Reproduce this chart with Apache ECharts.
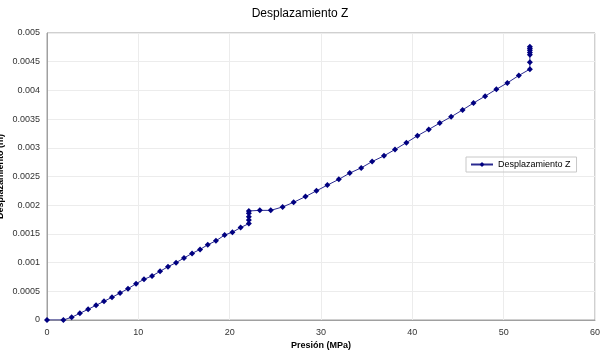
<!DOCTYPE html>
<html>
<head>
	<meta charset="utf-8">
	<script src="https://cdn.jsdelivr.net/npm/echarts@6/dist/echarts.min.js"></script>
	<style>
		html, body { margin: 0; padding: 0; background: #fff; }
	</style>
</head>
<body>
	<div id="main" style="width: 600px; height: 351px"></div>
	<script type="text/javascript">
		// presión (MPa)
		var presion = [
			0, 1.79, 2.7, 3.6, 4.5, 5.37, 6.24, 7.12, 8.0, 8.87, 9.75,
			10.62, 11.5, 12.38, 13.25, 14.13, 15.0, 15.88, 16.76, 17.6, 18.5, 19.45, 20.3, 21.2,
			22.1, 22.1, 22.1, 22.1, 22.1,
			23.3, 24.5, 25.8, 27.0, 28.3, 29.5, 30.7, 31.95, 33.15, 34.4, 35.6, 36.9, 38.1, 39.35,
			40.56, 41.8, 43.0, 44.25, 45.5, 46.7, 47.97, 49.2, 50.4, 51.66,
			52.87, 52.87, 52.87, 52.87, 52.87, 52.87, 52.87
		];
		// desplazamiento Z (m)
		var desplazamiento = [
			0, 0, 0.000047, 0.000117, 0.000186, 0.000256, 0.000326, 0.000395, 0.00047, 0.000545, 0.000632,
			0.000709, 0.000767, 0.000848, 0.000929, 0.000998, 0.00108, 0.00116, 0.00123, 0.00131, 0.00138, 0.00148, 0.00153, 0.00161,
			0.00168, 0.00174, 0.0018, 0.00186, 0.0019,
			0.00191, 0.00191, 0.00197, 0.00205, 0.00215, 0.00225, 0.00235, 0.00245, 0.00256, 0.00265, 0.00276, 0.00286, 0.00297, 0.00309,
			0.00321, 0.00332, 0.00343, 0.00354, 0.00366, 0.00378, 0.0039, 0.00402, 0.00413, 0.00426,
			0.00437, 0.00449, 0.00462, 0.00466, 0.0047, 0.00473, 0.00476
		];
		var serieNombre = 'Desplazamiento Z';

		var puntos = presion.map(function (p, i) { return [p, desplazamiento[i]]; });

		var myChart = echarts.init(document.getElementById('main'));
		var fuente = 'Arial, "Liberation Sans", sans-serif';
		var option = {
			backgroundColor: '#fff',
			animation: false,
			title: {
				text: 'Desplazamiento Z',
				left: 'center', top: 3,
				textStyle: { fontFamily: fuente, fontSize: 12, fontWeight: 'normal', color: '#000' }
			},
			legend: {
				left: 466, top: 157,
				orient: 'vertical',
				padding: [3, 6, 3, 4],
				borderColor: '#c8c8c8', borderWidth: 1,
				itemWidth: 22, itemHeight: 6,
				textStyle: { fontFamily: fuente, fontSize: 9, color: '#000' },
				data: [serieNombre]
			},
			grid: {
				left: 47, right: 5, top: 33, bottom: 31,
				containLabel: false, outerBoundsMode: 'none',
				show: true, borderColor: '#a0a0a0', borderWidth: 1
			},
			xAxis: {
				type: 'value', min: 0, max: 60, interval: 10,
				name: 'Presión (MPa)', nameLocation: 'middle', nameGap: 21,
				nameMoveOverlap: false,
				nameTextStyle: { fontFamily: fuente, fontSize: 9, fontWeight: 'bold', color: '#000' },
				axisLine: { lineStyle: { color: '#a0a0a0' } },
				axisTick: { show: false },
				axisLabel: { fontFamily: fuente, fontSize: 9, color: '#333', margin: 8 },
				splitLine: { lineStyle: { color: '#ececec' } }
			},
			yAxis: {
				type: 'value', min: 0, max: 0.005, interval: 0.0005,
				name: 'Desplazamiento (m)', nameLocation: 'middle', nameGap: 42,
				nameMoveOverlap: false,
				nameTextStyle: { fontFamily: fuente, fontSize: 9, fontWeight: 'bold', color: '#000' },
				axisLine: { show: true, lineStyle: { color: '#a0a0a0' } },
				axisTick: { show: false },
				axisLabel: {
					fontFamily: fuente, fontSize: 9, color: '#333', margin: 7,
					formatter: function (v) { return String(parseFloat(v.toFixed(5))); }
				},
				splitLine: { lineStyle: { color: '#ececec' } }
			},
			series: [{
				name: serieNombre,
				type: 'line',
				data: puntos,
				symbol: 'diamond',
				symbolSize: 6,
				itemStyle: { color: '#000080' },
				lineStyle: { color: '#2a2a90', width: 1 }
			}]
		};
		myChart.setOption(option);
	</script>
</body>
</html>
